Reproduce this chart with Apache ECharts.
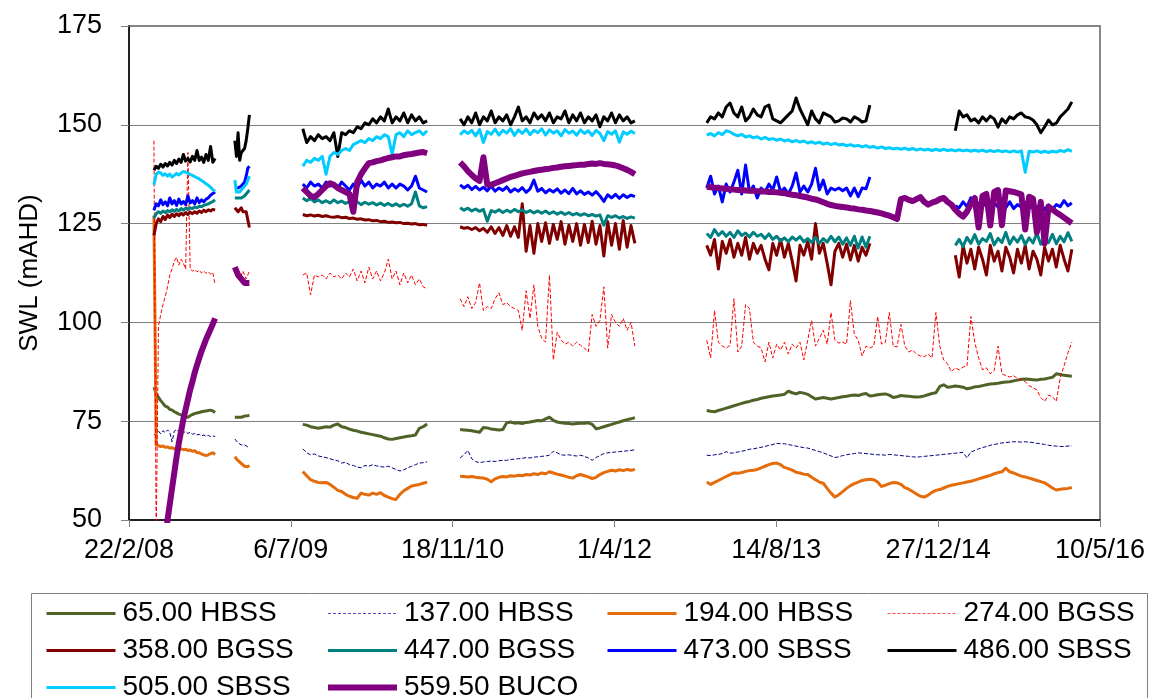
<!DOCTYPE html>
<html>
<head>
<meta charset="utf-8">
<script src="https://cdn.jsdelivr.net/npm/echarts@6/dist/echarts.min.js"></script>
<style>
html,body{margin:0;padding:0;background:#fff;}
#chart{width:1151px;height:698px;}
</style>
</head>
<body>
<div id="chart"></div>
<script>
// Sampling periods: start date and step (days) for each logging period
const PERIOD_START = ['2008-05-09', '2009-01-14', '2009-08-12', '2010-12-11', '2013-01-11'];
const PERIOD_STEP = [7, 5, 12, 12, 12];

// X axis (Excel serial dates): 22/2/08 .. 10/5/16 every 500 days
const X_MIN = '2008-02-22';
const X_MAX = '2016-05-10';
const X_STEP_DAYS = 500;
const Y_MIN = 50, Y_MAX = 175, Y_STEP = 25;

const NAMES = ['65.00 HBSS','137.00 HBSS','194.00 HBSS','274.00 BGSS','358.00 BGSS','447.00 BGSS','473.00 SBSS','486.00 SBSS','505.00 SBSS','559.50 BUCO'];

const N = null;
const GAP21 = [N,N,N,N,N,N,N,N,N,N,N,N,N,N,N,N,N,N,N,N,N];

const s65 = [
 [83.6,82,81,80.2,79.5,78.8,78.6,78,77.8,77.4,77.1,76.8,76.6,76.3,76.1,76,76.4,76.7,76.9,77.1,77.2,77.4,77.5,77.6,77.7,77.8,77.6,77.2],
 [76,75.8,76,76.2,76,76.1,76.3,76.2,76.4,76.5],
 [74.2,74,73.6,73.4,73.2,73.4,73.6,73.5,74,74.3,73.6,73.4,73,72.7,72.5,72.2,72,71.8,71.6,71.4,71.2,70.8,70.5,70.4,70.6,70.8,71,71.2,71.3,71.5,73.2,73.6,74.3],
 [72.9,72.8,72.7,72.6,72.4,72.2,73.4,73.3,73,72.9,72.8,72.9,74.6,74.8,74.5,74.6,74.4,74.7,74.8,75,75.2,75.1,75.6,76,75.2,74.8,74.6,74.5,74.4,74.3,74.4,74.5,74.5,74.6,74.2,73.1,73.3,73.6,73.9,74.2,74.5,74.8,75.1,75.4,75.6,75.9],
 [77.7,77.5,77.4,77.7,78,78.3,78.6,78.9,79.2,79.5,
  79.8,80,80.3,80.5,80.8,81,81.2,81.4,81.5,81.6,
  81.8,82.6,82.2,81.9,82.3,82.1,81.8,81.2,80.6,80.8,
  81,80.8,80.6,80.8,81,81.2,81.3,81.5,81.6,81.5,
  81.8,82,81.4,81.5,81.7,81.8,81.9,81.6,81,81.2,
  81.5,81.4,81.3,81.2,81.1,81.2,81.4,81.7,82,82.2,
  83.8,84.2,83.6,83.7,83.9,83.8,83.6,83.2,83.4,83.7,
  83.8,84,84.2,84.4,84.5,84.6,84.8,84.9,85,85.2,
  85.4,85.6,85.7,85.6,85.5,85.4,85.6,85.7,85.9,86.1,
  87,86.8,86.6,86.5,86.4]
];

const s137 = [
 [71.5,72,72.5,71.8,72.6,72.1,72.8,72.2,69.8,72.5,72.9,72.3,72.7,72.1,72.4,71.9,72.2,71.7,71.9,71.5,71.7,71.3,71.5,71.2,71.4,71.1,71.3,71.1],
 [70.5,70,69.5,70,69,68.8,69,68.6,68.5,68.5],
 [68,67,66.5,66.7,66.2,66,65.8,65.5,65.2,65,64.4,64.6,64,63.8,63.4,63.2,63.8,63.6,64,63.7,63.5,63.4,63.6,63.2,62.8,62.4,62.7,63.2,63.6,64,64.4,64.5,64.7],
 [65.7,66.5,67.6,65.5,64.8,64.5,64.7,64.8,64.9,64.8,65,65.1,65.1,65.3,65.4,65.5,65.6,65.8,65.7,65.9,66,66.1,66.2,66.4,67.4,67,66.5,66.4,66.5,66.3,66.2,66.4,66.1,65.7,65.1,65.8,66.3,66.8,67,67.1,67.2,67.3,67.4,67.5,67.6,67.8],
 [66.4,66.3,66.5,66.6,66.8,67.3,66.9,67,67.2,67.4,
  67.6,67.9,68,68.2,68.4,68.6,68.9,69.1,69.4,69.3,
  69.3,69.1,68.9,68.7,68.5,68.3,68.2,67.9,67.6,67.3,
  67,66.6,66.2,65.8,66,66.3,66.5,66.7,66.8,67,
  66.9,66.8,66.7,66.6,66.5,66.5,66.4,66.6,66.5,66.4,
  66.3,66.2,66.1,66,65.9,66,66.1,66.2,66.3,66.4,
  66.5,66.6,66.7,66.8,66.9,67,67.1,65.7,67.2,67.6,
  68,68.3,68.6,68.9,69.1,69.3,69.5,69.6,69.7,69.8,
  69.8,69.7,69.8,69.7,69.6,69.4,69.3,69.1,68.9,68.8,
  68.7,68.6,68.6,68.7,68.8]
];

const s194 = [
 [127,69,68.8,68.6,68.7,68.4,68.5,68.2,68.3,68,68.1,67.9,68,67.8,67.9,67.6,67.7,67.4,67.5,67.1,67,66.7,66.5,66.3,66.5,66.8,67,66.6],
 [66,65.5,65,64.7,64.3,64,63.6,63.4,63.5,63.8],
 [62.3,61.2,60.2,59.8,59.5,59.4,59.5,59,58.3,57.5,57.2,56.5,56,55.7,55.5,56.8,56.5,56.3,56.8,56.5,56.9,56.2,55.8,55.4,55.2,56.5,57.4,58,58.6,58.8,59,59.3,59.6],
 [61.1,61,60.9,61,60.8,60.7,60.6,60.3,59.7,60.4,60.8,61,60.9,61.2,61.1,61.3,61.2,61.5,61.4,61.7,61.5,61.9,61.7,62.2,61.9,61.6,61.4,61.1,60.8,60.6,61.2,61.5,61.2,60.9,60.5,60.8,61.5,62,62.3,62.6,62.4,62.7,62.5,62.8,62.6,62.8],
 [59.6,59,59.5,60,60.5,61,61.5,61.9,61.8,62,
  62.3,62.5,62.6,62.8,63.2,63.6,64,64.3,64.4,64,
  63.3,63,62.6,62.1,61.9,61.6,61.5,60.8,60.2,59.6,
  59.3,58,56.8,55.8,56.4,57.2,58,58.7,59.2,59.6,
  60,60.2,60.3,60.2,59.6,58.5,58.8,59.2,59.5,59.4,
  59,58.2,57.8,57.2,56.6,56,55.8,56.3,57,57.5,
  57.7,58.1,58.5,58.8,59,59.2,59.4,59.6,59.8,60.1,
  60.4,60.7,61,61.3,61.7,62,62.2,63.1,62.2,61.9,
  61.5,61.1,60.9,60.6,60.3,60,59.7,59.4,58.8,58.1,
  57.6,57.8,57.9,58,58.2]
];

const s274 = [
 [146,46,99,102,104.5,106.5,109,112,113.5,115.5,116.5,114.5,116,115,113.5,143,113.5,113,113.4,112.8,113.2,112.5,113,112.4,112.8,112.2,112.6,109.5],
 [113,113.5,112.5,113,112,113,112.5,111,112,113],
 [112,112.5,107,112,111.5,112,111,112.5,111.5,112,111,112.5,111.5,113.5,110.5,113,110,114,111,113,110.5,112.5,116,111,113,109.5,112.5,110,112,109.5,111,109,108.5],
 [106,104,106.5,103.5,105,110,103,104,103.5,106,107.5,104.5,105,104,103.5,103,98,108,101,109.5,99,96,95,112,90.5,97.5,95.5,94.5,95,94,95,94.2,93.5,92.5,102,99,100.5,109,93.5,102,100,99,101,98,100,94],
 [95.5,91,103,95,94,93.5,94.2,106,92.5,94,
  104.5,103.5,95,94,93.5,90,95,91,94.5,93,
  95,92,94.5,93.5,95,90.5,95.5,100.5,94,96,
  98,94.5,102.5,95.5,94.8,95,94.5,105.5,97,95.5,
  91.5,94,93.5,94,101.5,94.5,95,102.5,94,93.8,
  99.5,94,92.5,93,92,91.5,91.3,92,91,102.5,
  94,90.5,89.5,87.5,88.5,88,88.7,89,101.5,95,
  91,88,88.5,87,87.8,94,87,86.5,86.2,86.5,
  85.8,85.4,85,84,83.5,82.9,81,80,81.6,81.2,
  80,86,89,92.3,95]
];

const s358 = [
 [122,125,126.2,125.5,126.8,126,127.2,126.5,127.4,126.8,127.5,127,127.6,127.2,127.8,127.3,127.9,127.5,128,127.6,128.2,127.8,128.4,128,128.5,128.2,128.6,128.4],
 [129,128.5,128,128.5,129,128,127.5,128,126,124],
 [127.3,127,127.2,126.9,127.1,126.8,127,126.7,126.6,126.8,126.5,126.6,126.3,126.4,126.1,126.2,125.9,126,125.7,125.8,125.5,125.6,125.3,125.4,125.2,125.3,125,125.1,124.9,125,124.7,124.8,124.6],
 [124.2,123.8,124,123.5,124,123.2,123.8,122.8,124.2,122.5,124,122,124.5,121.8,124.2,121.5,130,118,124.5,117.5,125,120.5,125.2,120,124.8,121,125.5,119.8,124.6,120.5,125,119.5,124.8,120.2,125.6,119.8,124.5,116.8,125.5,119.5,125,118.5,125.8,119,124.5,120],
 [119.5,117,121,113.5,120.5,117.5,121,116.5,120,117,
  121.5,116,120,117.5,119.5,116,113.3,120,117,121,
  116.5,120,115.5,110.5,119.5,117,120.5,116,125,117.5,
  120,115,109.5,118,120,116.5,119.8,115.8,119.5,115.5,
  119,117,120,
  ...GAP21,
  117,111.5,119.5,115,118.5,113.5,119,116,112,119.5,
  115.5,118,113,119,116.5,112.5,118.5,115,119.5,113.5,
  118,116,112,119,115.5,118.5,114,119.5,116,113,
  118.5]
];

const s447 = [
 [126.4,127.5,128,127.6,128.2,127.8,128.3,128,128.5,128.1,128.6,128.2,128.8,128.4,128.9,128.6,129,128.8,129.2,129,129.4,129.3,129.6,129.8,130,130.3,130.6,131],
 [131.5,131,131.5,131,131.5,132,132,132.5,133,133.5],
 [131.5,130.8,131.3,130.5,131,130.3,130.8,130.2,131,130.3,130.7,130.1,130.6,130,130.5,129.8,130.4,129.9,130.3,129.7,130.2,129.6,130.1,129.5,130,129.4,129.9,129.4,130,133,129.5,129,129.3],
 [129,128.4,128.9,128.2,128.7,128.1,128.6,125.6,128.3,127.9,128.5,127.8,128.4,127.9,128.6,128,128.5,127.8,128.3,127.7,128.2,127.6,128.2,127.5,128,127.4,127.9,127.3,127.8,127.2,127.6,127.1,127.5,127,127.3,126.9,127.2,124.6,127,126.6,127,126.4,126.8,126.3,126.7,126.4],
 [122.5,121.5,123.5,122,123,121.8,122.8,121.5,123.2,122,
  122.6,121.6,122.8,121.8,122.3,121.2,122.4,121,121.8,120.6,
  121.4,120.4,121.6,120.8,121.7,120.4,121.2,120.2,121.5,120,
  121.2,120.3,121.8,120.4,121.6,119.8,121.4,119.5,121.8,118.8,
  121.6,119,121.8,
  ...GAP21,
  119.5,121,119.2,121.5,120,122.2,119.8,121.2,120.5,122.5,
  119.6,121.3,120.2,122.8,119.8,121.6,120.3,122,119.7,121.4,
  120.1,122.6,119.8,121.5,120.2,122.3,119.9,121.8,120.4,122.7,
  120.5]
];

const s473 = [
 [128.4,130,129.5,131,129.8,130.5,129.5,131.5,130,130.8,129.6,131.2,130,130.6,129.8,132,130.2,130.8,130,131.5,130.3,131,130.5,131.2,131.5,132.2,132.6,133],
 [134,133.5,134,134,134.5,135,135.5,137,139,139.5],
 [135,134,135.5,134.5,135,134,135.5,134.5,135,134,135.5,134.5,133.5,135,134,136,134.5,135.5,134,135,134.5,135.5,134,135,134,135,134.5,133.5,134.5,137,134,133.5,133],
 [134.8,134,134.7,133.6,134.4,133.5,134.2,133.3,134.5,133.2,134,133.4,134.3,133,133.8,133.2,134.1,132.9,133.8,136,133.2,133.9,132.8,133.6,133,133.8,132.7,133.5,132.6,133.9,132.5,133.3,132.4,133,132.2,133.1,132,130.6,132.3,131.5,132.4,131.4,132.3,131.6,132.2,131.8],
 [134,137,132.5,134.5,130.5,135,133,135.5,138.5,132.5,
  139.8,133,134.5,131.5,134,133,135,133.5,136.8,133,
  134,132.5,134.5,137.8,133,134.5,133,135,139,133.5,
  136,132.5,134,133.5,134,133.3,134,132,134,131.8,
  134,133.8,136.8,
  ...GAP21,
  129.5,129,130.5,129.3,131.5,129,130.2,129.5,130,128.8,
  130.3,129.2,130,129,130.5,128.8,129.8,129.2,130.4,128.9,
  129.6,129.1,130,128.5,129.7,128.6,129.8,129.3,130.8,129.5,
  130.2]
];

const s486 = [
 [138.5,139.5,139,140,139.3,140.2,139.6,140.5,139.8,141,140.2,141.3,140.5,142.5,140.8,141.5,140.6,142,141,143.5,141,141.8,140.5,142.5,141,144.5,140.5,141.5],
 [146,142,148,141,143,143.5,144,146,149,152.5],
 [149,145.5,147,146,147.5,146.5,147,146,148,142,148,147.5,148.5,148,149.5,149,150.5,150,151.5,150.5,152,151,154,150.5,152,151,153,150.5,152.5,151,152,150.5,151],
 [151.5,150,152,150.5,153,150,152,151,153.5,150.5,152,151,152.5,150,152,154.5,151,152,150.5,153,151.5,152.5,151,153,150.5,152,151.5,153.5,150.5,152.5,151,153,150.5,152,151,152.5,149.5,152,151,153,150.5,152.5,151,152,150.5,151],
 [150.5,152,151.5,153,152,154.5,155.5,153,152,154.5,
  151,152,154,152.5,152,154.5,155,151.5,151,150.5,
  151.5,152.5,153.5,156.8,154,152,150,153.5,151.5,150.5,
  153,152.5,152,150.7,151,151.7,151.5,150.7,152,151.5,
  150.7,151,155,
  ...GAP21,
  148.5,153.5,152,152.5,151,151.5,150.5,152,151,152.2,
  151.5,149.4,151.5,150.5,152,151.5,152.5,153,152,151.8,
  151.2,150,148,149.5,151.2,150,150.4,152,153,154,
  155.8]
];

const s505 = [
 [134.8,137.5,138,137.8,137.2,137.6,137,137.5,136.8,137.2,137.7,137.3,137.8,138.2,138,137.8,137.4,137.2,136.9,136.6,136.3,135.9,135.5,135.1,134.7,134.2,133.6,133.2],
 [136,133,132.5,133,133.5,134,134.5,135,136,137],
 [139.5,141,140.5,141.5,141,142,137.5,142,143,142.5,143.5,144,143.5,145,145.5,146,145.5,146.5,146,147,146.5,147.5,147,142.5,147.5,148,147,148.5,147.5,148,148.5,147.5,148.5],
 [147.5,148.5,147.8,148.6,147.2,148.8,145.5,148.3,147.6,148.9,147.4,148.6,147.9,149,147.3,148.7,147.8,148.9,147.5,148.6,148,149,147.4,148.7,147.9,148.5,147.2,148.8,147.9,148.4,147.4,148.7,147.8,148.5,147.3,148.6,147.8,146,148.3,147.6,148.5,145.6,148.2,147.6,148.4,147.8],
 [147.4,147.8,147.2,148,147.5,148.5,148.2,147.6,147.2,147.6,
  146.9,147.2,146.7,147,146.4,146.8,146.3,146.5,146.1,146.4,
  145.9,146.2,145.7,146,145.6,145.9,145.4,145.7,145.3,145.6,
  145.1,145.4,145,145.3,144.9,145.1,144.7,145,144.6,144.8,
  144.4,144.7,144.3,144.5,144.1,144.4,144,144.2,143.9,144.1,
  143.8,144.1,143.7,144,143.6,143.9,143.6,143.8,143.5,143.8,
  143.5,143.8,143.5,143.7,143.4,143.7,143.4,143.6,143.3,143.6,
  143.3,143.6,143.2,143.5,143.2,143.5,143.2,143.4,143.1,143.4,
  143.1,143.4,138,143.3,143.1,143.4,143,143.3,143,143.3,
  143.1,143.5,143.2,143.7,143.3]
];

const s559 = [
 [N,N,N,N,N,45,50,54,58,62,66,69.5,72.5,75.5,78,80.5,83,85,87.3,89.2,91,92.7,94.2,95.7,97,98.3,99.6,101],
 [114,113,112,111.5,111,110.5,110,109.8,110,110],
 [134,133,132,131.7,132.5,133.5,134.5,135.2,134.8,134,133.5,133,132.5,128,135.5,137.5,139,140.3,140.5,140.8,141,141.3,141.6,141.8,142,142,142.3,142.5,142.6,142.8,143,143.1,142.8],
 [140.5,139.5,138.3,137.3,136.4,135.8,141.8,134.8,134.8,135.2,135.6,136,136.4,136.8,137.1,137.4,137.7,137.9,138.1,138.3,138.5,138.6,138.8,138.9,139.1,139.2,139.4,139.5,139.6,139.7,139.8,139.9,139.9,140.1,140.2,140.1,140.3,140.1,140,139.9,139.7,139.4,139,138.6,138.1,137.5],
 [134.3,134.2,134.1,134,133.9,133.8,133.7,133.6,133.5,133.5,
  133.4,133.3,133.3,133.2,133.1,133.1,133,133,132.9,132.8,
  132.7,132.5,132.3,132.2,132,131.8,131.6,131.3,131.1,130.8,
  130.4,130,129.7,129.5,129.3,129.2,129.1,128.9,128.8,128.6,
  128.5,128.3,128.2,128,127.8,127.6,127.3,127,126.6,126.2,
  131.2,131.5,131,130.7,131.2,131.7,130.5,129.8,130.3,130.6,
  131.2,131.5,130.5,129.8,128.5,127.5,126.8,128,130,131.5,
  124,132,132.5,124.5,133,133.5,124.6,133.4,133.2,133,
  132.7,132.4,123.5,131.8,131.3,122.8,130.5,120,129.3,128.6,
  127.8,127.2,126.5,125.8,125.1]
];

const SERIES_VALUES = [s65, s137, s194, s274, s358, s447, s473, s486, s505, s559];

// styles
const COLORS = ['#4F6228','#000080','#E46C0A','#FF0000','#800000','#008080','#0000FF','#000000','#00CCFF','#800080'];
const LEGEND_COLORS = ['#4F6228','#5050D0','#E46C0A','#FF5050','#800000','#008080','#0000FF','#000000','#00CCFF','#800080'];
const WIDTHS = [3, 1, 3, 1, 3, 3, 3, 3, 3, 6];
const DASHED = [false, true, false, true, false, false, false, false, false, false];

function serial(s) {
  const p = s.split('-').map(Number);
  return Math.round((Date.UTC(p[0], p[1]-1, p[2]) - Date.UTC(1899, 11, 30)) / 864e5);
}
function fmtSerial(v) {
  const d = new Date(Date.UTC(1899, 11, 30) + v * 864e5);
  return d.getUTCDate() + '/' + (d.getUTCMonth()+1) + '/' + String(d.getUTCFullYear()).slice(2);
}
function build(periods) {
  const out = [];
  periods.forEach((vals, p) => {
    const x0 = serial(PERIOD_START[p]);
    vals.forEach((v, i) => out.push([x0 + i * PERIOD_STEP[p], v]));
    out.push([x0 + vals.length * PERIOD_STEP[p], null]);
  });
  return out;
}

const FONT = "'Liberation Sans', Arial, sans-serif";
const chart = echarts.init(document.getElementById('chart'), null, {renderer: 'canvas'});

const series = NAMES.map((name, k) => ({
  name: name,
  type: 'line',
  data: build(SERIES_VALUES[k]),
  showSymbol: false,
  symbol: 'none',
  connectNulls: false,
  clip: true,
  animation: false,
  z: 2 + k,
  lineStyle: { color: COLORS[k], width: WIDTHS[k], type: DASHED[k] ? [4, 2] : 'solid', cap: 'butt', join: 'round' },
  itemStyle: { color: COLORS[k] },
  emphasis: { disabled: true }
}));

const legendCols = [[0, 4, 8], [1, 5, 9], [2, 6], [3, 7]];
const legendLeft = [45, 325, 606, 886];
const legends = legendCols.map((col, c) => ({
  type: 'plain',
  orient: 'vertical',
  left: legendLeft[c],
  top: 595,
  height: 200,
  padding: 0,
  itemGap: 0,
  itemWidth: 69,
  itemHeight: 14,
  selectedMode: false,
  data: col.map(k => ({
    name: NAMES[k],
    itemStyle: { opacity: 0, borderWidth: 0 },
    lineStyle: { color: LEGEND_COLORS[k], width: WIDTHS[k], type: DASHED[k] ? [3, 2] : 'solid', opacity: 1 }
  })),
  textStyle: { fontFamily: FONT, fontSize: 28, color: '#000', lineHeight: 37, padding: [0, 0, 0, 2] }
}));

chart.setOption({
  animation: false,
  backgroundColor: '#fff',
  grid: { left: 129, right: 51, top: 26, bottom: 178, show: true, borderColor: '#888888', borderWidth: 2, backgroundColor: 'transparent' },
  xAxis: {
    type: 'value',
    min: serial(X_MIN), max: serial(X_MAX), interval: X_STEP_DAYS,
    axisLine: { show: true, onZero: false, lineStyle: { color: '#000', width: 1.5 } },
    axisTick: { show: true, length: 7, lineStyle: { color: '#808080', width: 1 } },
    splitLine: { show: false },
    axisLabel: { formatter: fmtSerial, fontFamily: FONT, fontSize: 27, color: '#000', margin: 17 }
  },
  yAxis: {
    type: 'value',
    min: Y_MIN, max: Y_MAX, interval: Y_STEP,
    name: 'SWL (mAHD)', nameLocation: 'middle', nameRotate: 90, nameGap: 86,
    nameTextStyle: { fontFamily: FONT, fontSize: 26, color: '#000' },
    axisLine: { show: true, onZero: false, lineStyle: { color: '#000', width: 1.5 } },
    axisTick: { show: true, inside: false, length: 8, lineStyle: { color: '#808080', width: 1 } },
    splitLine: { show: true, lineStyle: { color: '#808080', width: 1 } },
    axisLabel: { fontFamily: FONT, fontSize: 27, color: '#000', margin: 27 }
  },
  legend: legends,
  graphic: [{
    type: 'rect', left: 29, top: 591, z: -10, zlevel: 0, silent: true,
    shape: { width: 1116, height: 120 },
    style: { fill: 'none', stroke: '#808080', lineWidth: 1 }
  }],
  series: series
});
</script>
</body>
</html>
